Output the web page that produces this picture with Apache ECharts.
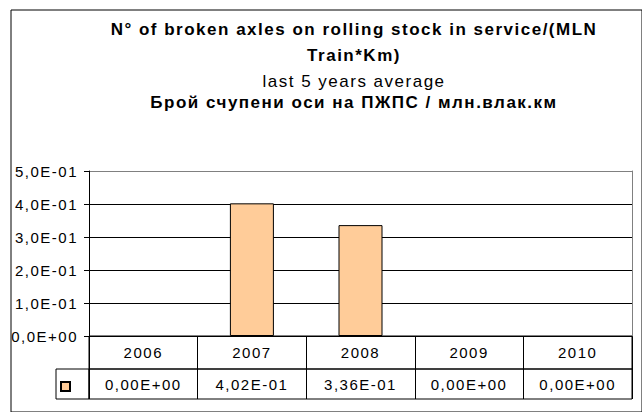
<!DOCTYPE html>
<html>
<head>
<meta charset="utf-8">
<script src="https://cdn.jsdelivr.net/npm/echarts@6/dist/echarts.min.js"></script>
<style>
  html, body { margin: 0; padding: 0; background: #fff; }
  #chart { width: 642px; height: 412px; }
  #chart text { letter-spacing: 1.5px; }
</style>
</head>
<body>
<div id="chart"></div>
<script>
// ---- data ----
const categories = ['2006', '2007', '2008', '2009', '2010'];
const values = [0, 0.402, 0.336, 0, 0];
const yTicks = [0, 0.1, 0.2, 0.3, 0.4, 0.5];
const titleLines = [
  'N° of broken axles on rolling stock in service/(MLN',
  'Train*Km)',
  'last 5 years average',
  'Брой счупени оси на ПЖПС / млн.влак.км'
];
const seriesName = 'Брой счупени оси';

// ---- helpers ----
function sci(v, d) {
  const parts = Number(v).toExponential(d).split('e');
  const n = parseInt(parts[1], 10);
  return parts[0].replace('.', ',') + 'E' + (n < 0 ? '-' : '+') + String(Math.abs(n)).padStart(2, '0');
}

const FONT = "'Liberation Sans', Arial, sans-serif";
const chart = echarts.init(document.getElementById('chart'), null, { renderer: 'svg' });

const titleTops = [21, 47, 73, 94];
const titleBold = [true, true, false, true];

const hiddenX = (g) => ({ type: 'category', gridIndex: g, data: categories, show: false });
const hiddenY = (g) => ({ type: 'value', gridIndex: g, show: false });

const option = {
  animation: false,
  backgroundColor: '#fff',
  title: titleLines.map((t, i) => ({
    text: t,
    left: 354,
    top: titleTops[i],
    textAlign: 'center',
    padding: 0,
    textStyle: {
      fontFamily: FONT,
      fontSize: 17,
      fontWeight: titleBold[i] ? 'bold' : 'normal',
      color: '#000'
    }
  })),
  legend: {
    left: 60,
    top: 381,
    padding: 0,
    itemWidth: 9,
    itemHeight: 9,
    icon: 'rect',
    formatter: () => '',
    data: [seriesName],
    selectedMode: false
  },
  grid: [
    { left: 89, top: 171, width: 543, height: 165, show: false },
    { left: 89, top: 336, width: 543, height: 33, show: true, borderColor: '#000', borderWidth: 1, backgroundColor: 'transparent' },
    { left: 89, top: 369, width: 543, height: 30, show: true, borderColor: '#000', borderWidth: 1, backgroundColor: 'transparent' },
    // outer chart frame
    { left: 11, top: 10, width: 700, height: 500, show: true, borderColor: '#000', borderWidth: 1, backgroundColor: 'transparent', z: -1 },
    // legend-key cell of the data table
    { left: 56, top: 369, width: 33, height: 30, show: true, borderColor: '#000', borderWidth: 1, backgroundColor: 'transparent' }
  ],
  xAxis: [
    {
      type: 'category', gridIndex: 0, data: categories, boundaryGap: true,
      axisLine: { show: true, lineStyle: { color: '#000', width: 1 } },
      axisTick: { show: false },
      axisLabel: { show: true, interval: 0, margin: 9, color: '#000', fontFamily: FONT, fontSize: 15 },
      splitLine: { show: false }
    },
    {
      type: 'category', gridIndex: 0, data: categories, boundaryGap: true, position: 'bottom', offset: 33,
      axisLine: { show: false }, axisTick: { show: false },
      axisLabel: { show: true, interval: 0, margin: 8, color: '#000', fontFamily: FONT, fontSize: 15,
        formatter: (v, idx) => sci(values[idx], 2) },
      splitLine: { show: false }
    },
    {
      type: 'category', gridIndex: 1, data: categories, boundaryGap: true,
      axisLine: { show: false }, axisTick: { show: false }, axisLabel: { show: false },
      splitLine: { show: true, interval: 0, lineStyle: { color: '#000', width: 1 } }
    },
    {
      type: 'category', gridIndex: 2, data: categories, boundaryGap: true,
      axisLine: { show: false }, axisTick: { show: false }, axisLabel: { show: false },
      splitLine: { show: true, interval: 0, lineStyle: { color: '#000', width: 1 } }
    },
    hiddenX(3),
    hiddenX(4)
  ],
  yAxis: [
    {
      type: 'value', gridIndex: 0, min: yTicks[0], max: yTicks[yTicks.length - 1], interval: 0.1,
      axisLine: { show: true, lineStyle: { color: '#000', width: 1 } },
      axisTick: { show: true, length: 5, lineStyle: { color: '#000' } },
      axisLabel: { margin: 11, color: '#000', fontFamily: FONT, fontSize: 15, formatter: v => sci(v, 1) },
      splitLine: { show: true, lineStyle: { color: ['#000', '#000', '#000', '#000', '#000', '#808080'], width: 1 } }
    },
    {
      type: 'value', gridIndex: 0, position: 'right', min: yTicks[0], max: yTicks[yTicks.length - 1], interval: 0.1,
      axisLine: { show: true, lineStyle: { color: '#808080', width: 1 } },
      axisTick: { show: false }, axisLabel: { show: false }, splitLine: { show: false }
    },
    hiddenY(1),
    hiddenY(2),
    hiddenY(3),
    hiddenY(4)
  ],
  series: [
    {
      name: seriesName,
      type: 'bar',
      xAxisIndex: 0, yAxisIndex: 0,
      data: values.map(v => (v === 0 ? '-' : v)),
      barWidth: 44,
      itemStyle: { color: '#FFCC99', borderColor: '#000', borderWidth: 1 },
      silent: true
    }
  ]
};
chart.setOption(option);
</script>
</body>
</html>
